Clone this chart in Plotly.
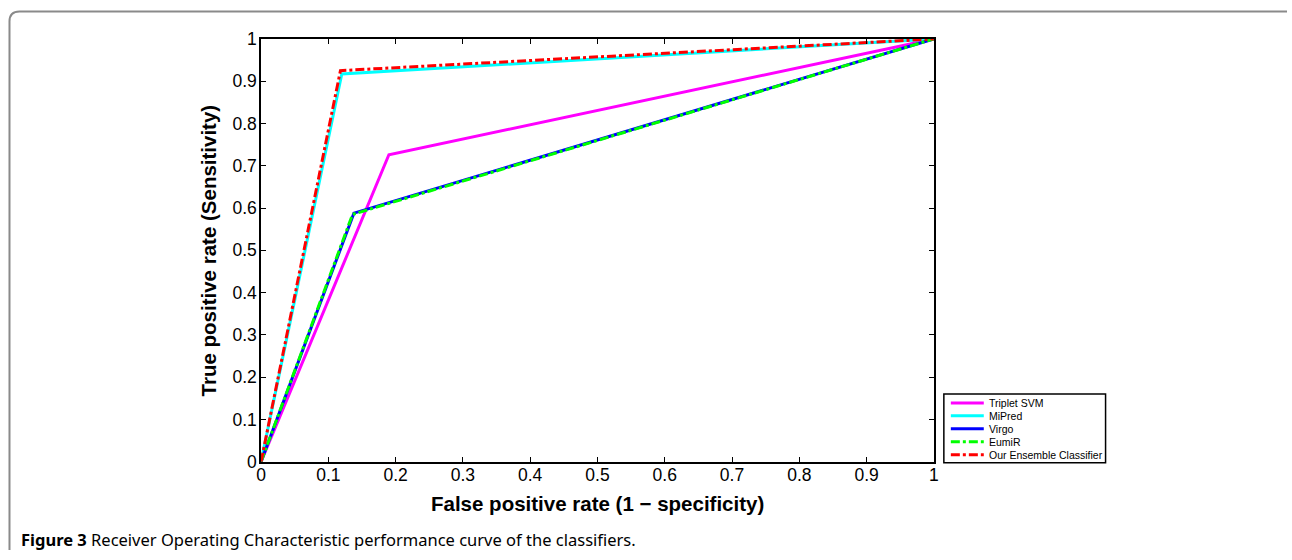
import plotly.graph_objects as go

W, H = 1292, 560

# ---- data ----
series_names = ["Triplet SVM", "MiPred", "Virgo", "EumiR", "Our Ensemble Classifier"]
fpr_triplet = [0.0, 0.190, 1.0]
tpr_triplet = [0.0, 0.726, 1.0]
fpr_mipred = [0.0, 0.120, 1.0]
tpr_mipred = [0.0, 0.917, 1.0]
fpr_virgo = [0.0, 0.138, 1.0]
tpr_virgo = [0.0, 0.588, 1.0]
fpr_eumir = [0.0, 0.136, 1.0]
tpr_eumir = [0.0, 0.585, 1.0]
fpr_ensemble = [0.0, 0.118, 1.0]
tpr_ensemble = [0.0, 0.925, 1.0]
tick_vals = [0, 0.1, 0.2, 0.3, 0.4, 0.5, 0.6, 0.7, 0.8, 0.9, 1]
tick_text = ["0", "0.1", "0.2", "0.3", "0.4", "0.5", "0.6", "0.7", "0.8", "0.9", "1"]

colors = ["#ff00ff", "#00ffff", "#0000ff", "#00ff00", "#ff0000"]
dashes = ["solid", "solid", "solid", "dashdot", "dashdot"]
xs = [fpr_triplet, fpr_mipred, fpr_virgo, fpr_eumir, fpr_ensemble]
ys = [tpr_triplet, tpr_mipred, tpr_virgo, tpr_eumir, tpr_ensemble]

FONT = "Liberation Sans, Arial, Helvetica, sans-serif"

# calibration: target screen position -> layout position
SX, OX = 0.994, 3.5
SY, OY = 0.967, 9.0


def px(x_screen):
    return ((x_screen - OX) / SX) / W


def py(y_screen):
    return 1 - ((y_screen - OY) / SY) / H


fig = go.Figure()
for name, x, y, c, d in zip(series_names, xs, ys, colors, dashes):
    fig.add_trace(go.Scatter(x=x, y=y, mode="lines", name=name,
                             line=dict(color=c, width=3, dash=d)))

# plot area in screen pixels
x0p, x1p = 260, 934
y0p, y1p = 462, 38

axis_common = dict(
    range=[0, 1], tickvals=tick_vals, ticktext=tick_text,
    ticks="inside", ticklen=5, tickcolor="black", tickwidth=1,
    showline=True, linecolor="black", linewidth=1.5, mirror="ticks",
    showgrid=False, zeroline=False,
    tickfont=dict(family=FONT, size=17.5, color="black"),
)

fig.update_layout(
    width=W, height=H,
    margin=dict(l=0, r=0, t=0, b=0),
    paper_bgcolor="white", plot_bgcolor="white",
    xaxis=dict(domain=[px(x0p), px(x1p)], ticklabelstandoff=-3, **axis_common),
    yaxis=dict(domain=[py(y0p), py(y1p)], ticklabelstandoff=-1, **axis_common),
    showlegend=False,
)

# legend box (drawn by hand for compact row spacing)
lx0, lx1, ly0, ly1 = 944, 1106, 394, 463
fig.add_shape(type="rect", xref="paper", yref="paper",
              x0=px(lx0), x1=px(lx1), y0=py(ly1), y1=py(ly0),
              line=dict(color="black", width=1.5), fillcolor="white")
row_y = [403, 416, 429, 442, 455]
for name, c, d, ry in zip(series_names, colors, dashes, row_y):
    fig.add_shape(type="line", xref="paper", yref="paper",
                  x0=px(951), x1=px(984), y0=py(ry), y1=py(ry),
                  line=dict(color=c, width=3, dash=d))
    fig.add_annotation(x=px(987), y=py(ry), xref="paper", yref="paper",
                       text=name, showarrow=False, xanchor="left", yanchor="middle",
                       font=dict(family=FONT, size=10.5, color="black"))

# axis titles
fig.add_annotation(x=px((x0p + x1p) / 2), y=py(504), xref="paper", yref="paper",
                   text="<b>False positive rate (1 − specificity)</b>", showarrow=False,
                   font=dict(family=FONT, size=20.5, color="black"),
                   xanchor="center", yanchor="middle")
fig.add_annotation(x=px(207), y=py(250), xref="paper", yref="paper",
                   text="<b>True positive rate (Sensitivity)</b>", showarrow=False, textangle=-90,
                   font=dict(family=FONT, size=20.5, color="black"),
                   xanchor="center", yanchor="middle")

# caption
fig.add_annotation(x=px(18), y=py(540), xref="paper", yref="paper",
                   text="<b>Figure 3</b> Receiver Operating Characteristic performance curve of the classifiers.",
                   showarrow=False, xanchor="left", yanchor="middle",
                   font=dict(family="Noto Sans, sans-serif", size=16.5, color="black"))

# figure frame (rounded top-left corner, open to the right and bottom)
r = 10
fx, fy = 8, 10.5
path = (f"M {px(fx)},{0} L {px(fx)},{py(fy + r)} "
        f"Q {px(fx)},{py(fy)} {px(fx + r)},{py(fy)} L {1},{py(fy)}")
fig.add_shape(type="path", path=path, xref="paper", yref="paper",
              line=dict(color="#8a8a8a", width=2))

fig.write_html("out.html")
